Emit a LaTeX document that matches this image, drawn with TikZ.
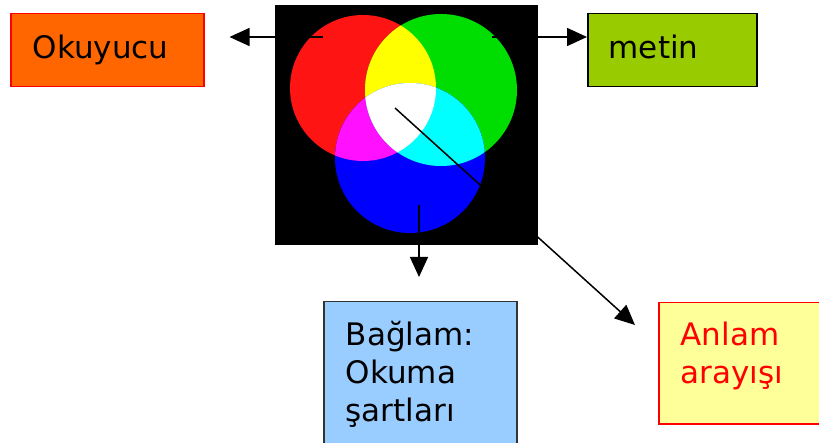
\documentclass[tikz,border=0pt]{standalone}
\usepackage{fontspec}
\setmainfont{DejaVu Sans}
\usetikzlibrary{arrows.meta}
\definecolor{okuorange}{HTML}{FF6600}
\definecolor{metingreen}{HTML}{99CC00}
\definecolor{baglamblue}{HTML}{99CCFF}
\definecolor{anlamyellow}{HTML}{FFFF99}
\definecolor{cred}{HTML}{FF1414}
\definecolor{cgreen}{HTML}{00DD00}
\definecolor{cblue}{HTML}{0000FF}
\definecolor{cyel}{HTML}{FFFF00}
\definecolor{cmag}{HTML}{FF10FF}
\definecolor{ccyan}{HTML}{00FFFF}
\def\circR{(363,88) circle[radius=73]}
\def\circG{(441,90) circle[radius=76]}
\def\circB{(410,158) circle[radius=75]}
\begin{document}
\begin{tikzpicture}[x=1pt,y=-1pt,
  box/.style={draw, line width=1.5pt, rectangle, anchor=north west, align=left,
    font=\fontsize{31}{38}\selectfont, inner ysep=0pt},
  conn/.style={line width=1.5pt, -{Triangle[length=20pt,width=18pt]}}]
\useasboundingbox (0,0) rectangle (819,443);
% picture
\node[fill=black, minimum width=263pt, minimum height=240pt, inner sep=0pt, anchor=north west] (img) at (275,5) {};
\fill[cred] \circR;
\fill[cgreen] \circG;
\fill[cblue] \circB;
\begin{scope}\clip \circR; \fill[cyel] \circG; \end{scope}
\begin{scope}\clip \circR; \fill[cmag] \circB; \end{scope}
\begin{scope}\clip \circG; \fill[ccyan] \circB; \end{scope}
\begin{scope}\clip \circR; \clip \circG; \fill[white] \circB; \end{scope}
% boxes
\node[box, draw=red, fill=okuorange, inner xsep=22pt, text width=149pt,
  minimum height=73pt, text height=23pt, text depth=7pt] (okuyucu) at (10,13) {Okuyucu};
\node[box, draw=black, fill=metingreen, inner xsep=21pt, text width=127pt,
  minimum height=73pt, text height=23pt, text depth=7pt] (metin) at (587,13) {metin};
\node[box, draw=black!80, fill=baglamblue, inner xsep=22pt, text width=149pt,
  inner ysep=21pt, text height=23pt, text depth=94pt] (baglam) at (323,301) {Bağlam:\\Okuma\\şartları};
\node[box, draw=red, fill=anlamyellow, text=red, inner xsep=22pt, text width=140pt,
  inner ysep=20pt, text height=23pt, text depth=58pt] (anlam) at (658,302) {Anlam\\arayışı};
% connectors
\coordinate (redpt) at (323,37);
\coordinate (greenpt) at (492,37);
\coordinate (bluept) at (419,205);
\coordinate (whitept) at (395,108);
\coordinate (anlamtip) at (635,325);
\draw[conn, shorten >=25pt] (redpt) -- (okuyucu.east |- redpt);
\draw[conn] (greenpt) -- (metin.west |- greenpt);
\draw[conn, shorten >=24pt] (bluept) -- (bluept |- baglam.north);
\draw[conn] (whitept) -- (anlamtip);
\end{tikzpicture}
\end{document}
